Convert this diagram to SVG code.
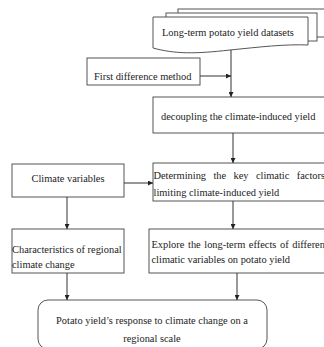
<svg xmlns="http://www.w3.org/2000/svg" width="324" height="347" viewBox="0 0 324 347">
<defs>
<style>
.box{fill:#fff;stroke:#555;stroke-width:1}
.t{font-family:"Liberation Serif","Times New Roman",serif;font-size:10.4px;fill:#222}
.c{text-anchor:middle}
.ln{stroke:#333;stroke-width:1;fill:none;marker-end:url(#ah)}
</style>
<marker id="ah" viewBox="0 0 8 8" refX="8" refY="4" markerWidth="5" markerHeight="5" orient="auto" markerUnits="userSpaceOnUse">
<path d="M0,0 L8,4 L0,8 Z" fill="#222"/>
</marker>
</defs>
<rect width="324" height="347" fill="#fff"/>
<g id="datasets">
<rect class="box" x="178" y="9" width="152" height="28"/>
<rect class="box" x="166" y="13" width="151" height="28"/>
<path class="box" d="M153,17 L308,17 L308,45 C285,44 260,47 230,50 C195,54 175,54 153,48 Z"/>
<text class="t" x="162" y="36">Long-term potato yield datasets</text>
</g>
<g id="first-difference">
<rect class="box" x="87" y="58" width="113" height="27"/>
<text class="t" x="94" y="79.5">First difference method</text>
</g>
<g id="decoupling">
<rect class="box" x="153" y="97" width="180" height="36"/>
<text class="t" x="161" y="119.5">decoupling the climate-induced yield</text>
</g>
<g id="climate-variables">
<rect class="box" x="12" y="164" width="112" height="33"/>
<text class="t c" x="68" y="181.5">Climate variables</text>
</g>
<g id="determining">
<rect class="box" x="153" y="163" width="180" height="38"/>
<text class="t" x="153.5" y="178.5" word-spacing="4.8">Determining the key climatic factors</text>
<text class="t" x="153.5" y="196">limiting climate-induced yield</text>
</g>
<g id="characteristics">
<rect class="box" x="12" y="229" width="112" height="44"/>
<text class="t" x="12" y="253">Characteristics of regional</text>
<text class="t" x="12" y="268">climate change</text>
</g>
<g id="explore">
<rect class="box" x="149" y="229" width="184" height="44"/>
<text class="t" x="151.5" y="248" word-spacing="1">Explore the long-term effects of different</text>
<text class="t" x="151.5" y="263">climatic variables on potato yield</text>
</g>
<g id="response">
<rect class="box" x="38" y="300" width="229" height="49" rx="10" ry="10"/>
<text class="t c" x="152" y="324">Potato yield’s response to climate change on a</text>
<text class="t c" x="152" y="342">regional scale</text>
</g>
<g id="connectors">
<line class="ln" x1="231" y1="50" x2="231" y2="97"/>
<line class="ln" x1="200" y1="76" x2="231" y2="76"/>
<line class="ln" x1="233" y1="133" x2="233" y2="163"/>
<line class="ln" x1="124" y1="183" x2="153" y2="183"/>
<line class="ln" x1="67" y1="197" x2="67" y2="229"/>
<line class="ln" x1="233" y1="201" x2="233" y2="229"/>
<line class="ln" x1="67" y1="273" x2="67" y2="300"/>
<line class="ln" x1="237" y1="273" x2="237" y2="300"/>
</g>
</svg>
